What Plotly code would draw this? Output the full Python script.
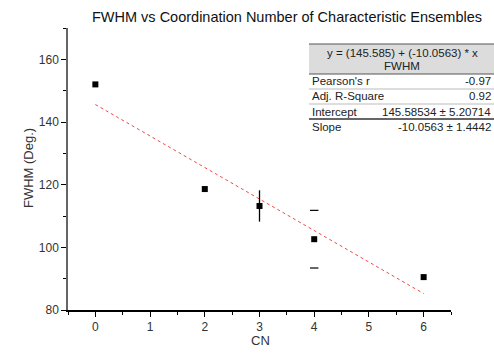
import plotly.graph_objects as go

# ---- data ----
cn = [0, 2, 3, 4, 6]
fwhm = [152.0, 118.6, 113.2, 102.6, 90.5]
err = [0, 0, 5.0, 9.2, 0]          # error bar half-widths
cap_only = [False, False, False, True, False]  # x=4 shows only caps
intercept = 145.585
slope = -10.0563
fit_x = [0, 6]

table_labels = ["Pearson's r", "Adj. R-Square", "Intercept", "Slope"]
table_values = ["-0.97", "0.92", "145.58534 ± 5.20714", "-10.0563 ± 1.4442"]
equation = "y = (145.585) + (-10.0563) * x"
column_name = "FWHM"
title = "FWHM vs Coordination Number of Characteristic Ensembles"
x_title = "CN"
y_title = "FWHM (Deg.)"

W, H = 494, 353
L, R, T, B = 68, 43, 28, 43
pw, ph = W - L - R, H - T - B

def px(x):
    return (x - L) / pw

def py(y):
    return (H - B - y) / ph

fig = go.Figure()

# fit line
fit_y = [intercept + slope * x for x in fit_x]
fig.add_trace(go.Scatter(x=fit_x, y=fit_y, mode="lines",
                         line=dict(color="#f04848", width=1, dash="dot"),
                         hoverinfo="skip", showlegend=False))

# error bars with stems
ex = [x for x, e, c in zip(cn, err, cap_only) if e > 0 and not c]
ey = [y for y, e, c in zip(fwhm, err, cap_only) if e > 0 and not c]
ee = [e for e, c in zip(err, cap_only) if e > 0 and not c]
fig.add_trace(go.Scatter(x=ex, y=ey, mode="markers", marker=dict(size=1, color="rgba(0,0,0,0)"),
                         error_y=dict(type="data", array=ee, color="black", thickness=1.3, width=0),
                         showlegend=False, hoverinfo="skip"))

# caps only
cx, cy = [], []
for x, y, e, c in zip(cn, fwhm, err, cap_only):
    if c and e > 0:
        cx += [x, x]
        cy += [y + e, y - e]
fig.add_trace(go.Scatter(x=cx, y=cy, mode="markers",
                         marker=dict(symbol="line-ew-open", size=6, color="black",
                                     line=dict(color="black", width=1.2)),
                         showlegend=False, hoverinfo="skip"))

# data points
fig.add_trace(go.Scatter(x=cn, y=fwhm, mode="markers",
                         marker=dict(symbol="square", size=6, color="black"),
                         showlegend=False))

font = "Liberation Sans, Arial, sans-serif"

fig.update_layout(
    width=W, height=H,
    margin=dict(l=L, r=R, t=T, b=B, autoexpand=False),
    paper_bgcolor="white", plot_bgcolor="white",
    font=dict(family=font, color="#222222", size=11),
    title=dict(text=title, x=(287) / W, xanchor="center", y=1 - 17 / H, yanchor="middle",
               font=dict(size=14.5, color="#111111")),
    xaxis=dict(range=[-0.5, 6.5], tickvals=[0, 1, 2, 3, 4, 5, 6],
               showgrid=False, zeroline=False, automargin=False,
               showline=True, linecolor="black", linewidth=1.5,
               ticks="outside", ticklen=5, tickwidth=1, tickcolor="black",
               minor=dict(dtick=0.5, ticks="outside", ticklen=3, tickcolor="black"),
               tickfont=dict(size=12, color="#333333")),
    yaxis=dict(range=[80, 170], tickvals=[80, 100, 120, 140, 160],
               showgrid=False, zeroline=False, automargin=False,
               showline=True, linecolor="#666666", linewidth=1.5,
               ticks="outside", ticklen=5, tickwidth=1, tickcolor="black",
               minor=dict(dtick=10, ticks="outside", ticklen=3, tickcolor="black"),
               tickfont=dict(size=12, color="#333333")),
)

# ---- table ----
tx0, tx1 = 309, 500
shapes = []
shapes.append(dict(type="rect", xref="paper", yref="paper", x0=px(tx0), x1=px(tx1),
                   y0=py(74), y1=py(44), fillcolor="#dcdcdc", line=dict(width=0), layer="above"))
for yy, col, wd in [(44, "#555555", 1), (74, "#555555", 1), (89, "#aaaaaa", 0.8),
                    (104, "#aaaaaa", 0.8), (119, "#333333", 1.5)]:
    shapes.append(dict(type="line", xref="paper", yref="paper", x0=px(tx0), x1=px(tx1),
                       y0=py(yy), y1=py(yy), line=dict(color=col, width=wd), layer="above"))
fig.update_layout(shapes=shapes)

tf = dict(size=11.5, color="#222222")
ann = []
# axis titles
ann.append(dict(text=x_title, x=px(260), y=py(340), xref="paper", yref="paper",
                showarrow=False, xanchor="center", yanchor="middle",
                font=dict(size=13, color="#333333")))
ann.append(dict(text=y_title, x=px(28), y=py(168), xref="paper", yref="paper",
                showarrow=False, xanchor="center", yanchor="middle", textangle=-90,
                font=dict(size=13, color="#333333")))
ann.append(dict(text=equation, x=px(402), y=py(53), xref="paper", yref="paper",
                showarrow=False, xanchor="center", yanchor="middle", font=tf))
ann.append(dict(text=column_name, x=px(402), y=py(66), xref="paper", yref="paper",
                showarrow=False, xanchor="center", yanchor="middle", font=tf))
row_y = [81, 96, 112, 127]
for lab, val, yy in zip(table_labels, table_values, row_y):
    ann.append(dict(text=lab, x=px(310), y=py(yy), xref="paper", yref="paper",
                    showarrow=False, xanchor="left", yanchor="middle", font=tf))
    ann.append(dict(text=val, x=px(493), y=py(yy), xref="paper", yref="paper",
                    showarrow=False, xanchor="right", yanchor="middle", font=tf))
fig.update_layout(annotations=ann)

fig.write_html("out.html")
